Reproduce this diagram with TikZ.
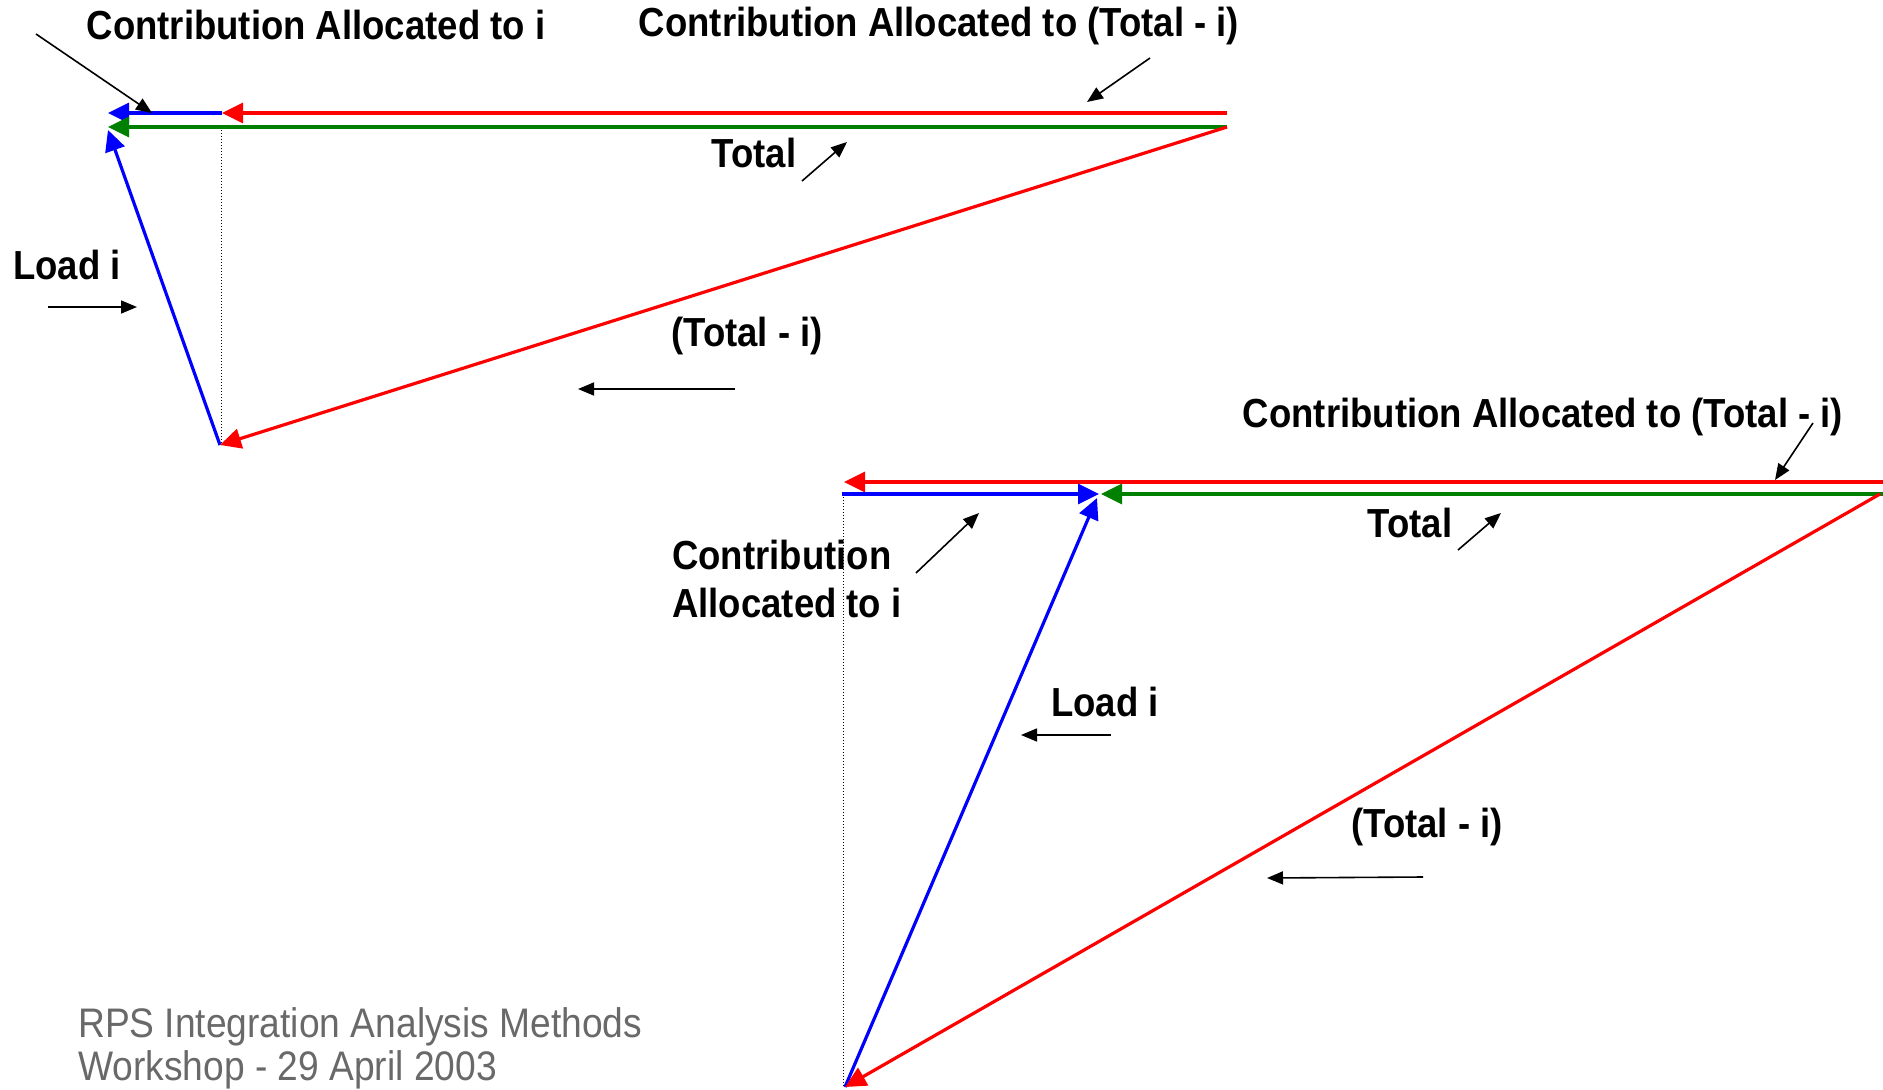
\documentclass[tikz,border=0pt]{standalone}
\usepackage{fontspec}
\setmainfont{Liberation Sans}
\newfontfamily\narrowfont[FakeStretch=0.9]{Liberation Sans}
\usetikzlibrary{arrows.meta}
\definecolor{tred}{RGB}{255,0,0}
\definecolor{tblue}{RGB}{0,0,255}
\definecolor{tgreen}{RGB}{0,128,0}
\definecolor{foot}{RGB}{105,105,105}
\begin{document}
\begin{tikzpicture}[x=1pt,y=-1pt,
  vec/.style={line width=3.2pt, -{Triangle[length=21pt,width=20pt]}},
  redvec/.style={vec, draw=tred},
  bluevec/.style={vec, draw=tblue},
  greenvec/.style={vec, draw=tgreen},
  ptr/.style={line width=1.6pt, draw=black, -{Triangle[length=16pt,width=13pt]}},
  lbl/.style={font=\narrowfont\bfseries\fontsize{40.6}{48}\selectfont, inner sep=0pt},
  foottext/.style={font=\narrowfont\fontsize{41.3}{43}\selectfont, text=foot, inner sep=0pt, align=left},
  drop/.style={draw=black, line width=1pt, dotted}
]
\useasboundingbox (0,0) rectangle (1883,1090);

% ---------- top diagram ----------
\coordinate (tA) at (108,113);
\coordinate (tQ) at (222,113);
\coordinate (tR) at (1227,113);
\coordinate (tA2) at (108,127);
\coordinate (tR2) at (1227,127);
\coordinate (tL) at (108,130);
\coordinate (tB) at (220,445);
\coordinate (tD) at (221,127);
\coordinate (tDb) at (221,445);

\draw[drop] (tD) -- (tDb);
\draw[redvec] (tR) -- (tQ);
\draw[bluevec] (tQ) -- (tA);
\draw[greenvec] (tR2) -- (tA2);
\draw[bluevec] (tB) -- (tL);
\draw[redvec] (tR2) -- (tB);

\node[lbl] (tCi) at (316,25) {Contribution Allocated to i};
\node[lbl] (tCt) at (939,26) {Contribution Allocated to (Total - i)};
\node[lbl] (tTot) at (754,153) {Total};
\node[lbl] (tLoad) at (67,265) {Load i};
\node[lbl] (tTmi) at (747,336) {(Total - i)};

\coordinate (p1s) at (36,34);   \coordinate (p1e) at (152,113);
\coordinate (p2s) at (1150,58); \coordinate (p2e) at (1087,102);
\coordinate (p3s) at (802,181); \coordinate (p3e) at (847,142);
\coordinate (p4s) at (48,307);  \coordinate (p4e) at (137,307);
\coordinate (p5s) at (735,389); \coordinate (p5e) at (578,389);
\draw[ptr] (p1s) -- (p1e);
\draw[ptr] (p2s) -- (p2e);
\draw[ptr] (p3s) -- (p3e);
\draw[ptr] (p4s) -- (p4e);
\draw[ptr] (p5s) -- (p5e);

% ---------- bottom diagram ----------
\coordinate (bRtop) at (1883,482);
\coordinate (bQ) at (844,482);
\coordinate (bS) at (842,494);
\coordinate (bM) at (1099,494);
\coordinate (bM2) at (1101,494);
\coordinate (bR) at (1883,494);
\coordinate (bR2) at (1880,494);
\coordinate (bV) at (845,1087);
\coordinate (bL) at (1097,498);
\coordinate (bD) at (843,494);
\coordinate (bDb) at (843,1087);

\draw[drop] (bD) -- (bDb);
\draw[redvec] (bRtop) -- (bQ);
\draw[bluevec] (bS) -- (bM);
\draw[greenvec] (bR) -- (bM2);
\draw[bluevec] (bV) -- (bL);
\draw[redvec] (bR2) -- (bV);

\node[lbl] (bCt) at (1543,417) {Contribution Allocated to (Total - i)};
\node[lbl] (bTot) at (1410,523) {Total};
\node[lbl, anchor=west, align=left] (bCi) at (672,579) {Contribution\\Allocated to i};
\node[lbl] (bLoad) at (1105,702) {Load i};
\node[lbl] (bTmi) at (1427,827) {(Total - i)};

\coordinate (q1s) at (1813,423); \coordinate (q1e) at (1775,480);
\coordinate (q2s) at (1458,550); \coordinate (q2e) at (1501,513);
\coordinate (q3s) at (916,573);  \coordinate (q3e) at (979,513);
\coordinate (q4s) at (1111,735); \coordinate (q4e) at (1021,735);
\coordinate (q5s) at (1423,877); \coordinate (q5e) at (1267,878);
\draw[ptr] (q1s) -- (q1e);
\draw[ptr] (q2s) -- (q2e);
\draw[ptr] (q3s) -- (q3e);
\draw[ptr] (q4s) -- (q4e);
\draw[ptr] (q5s) -- (q5e);

% ---------- footer ----------
\node[foottext, anchor=west] (foot) at (78,1048) {RPS Integration Analysis Methods\\Workshop - 29 April 2003};
\end{tikzpicture}
\end{document}
